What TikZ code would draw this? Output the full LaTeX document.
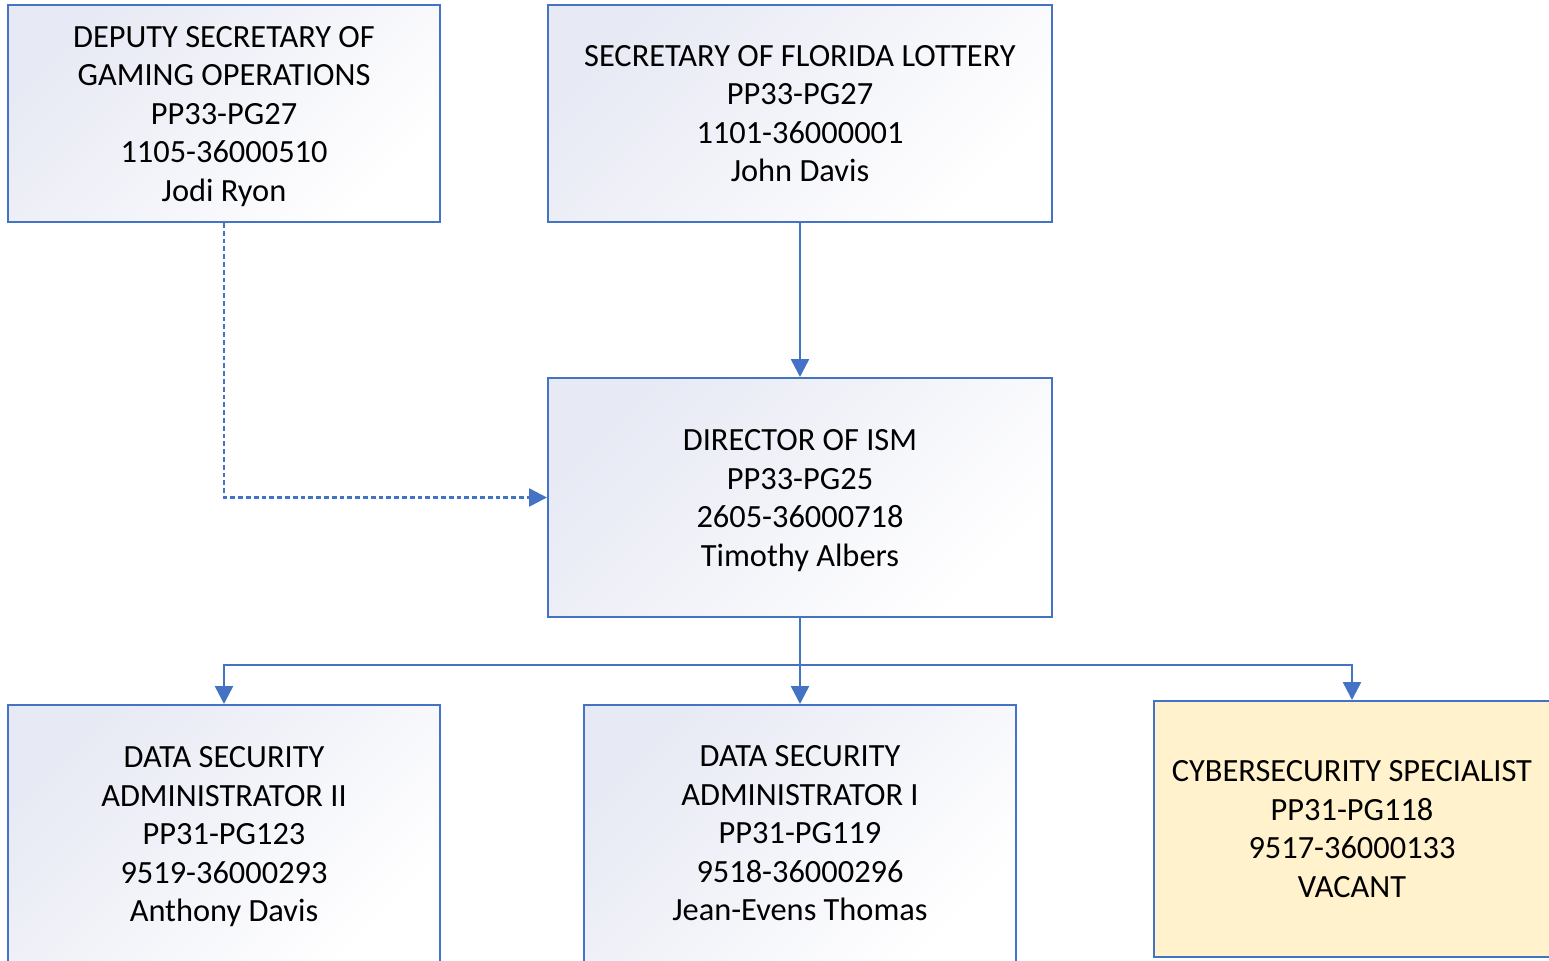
\documentclass[tikz,border=0pt]{standalone}
\usepackage{fontspec}
\setmainfont{Carlito}
\usetikzlibrary{arrows.meta}
\definecolor{lineblue}{HTML}{4472C4}
\definecolor{shadetop}{HTML}{E7E9F4}
\definecolor{vacantfill}{HTML}{FFF2CC}
% extra room above the first text line of a box
\newcommand\firstline{\rule{0pt}{13.6pt}}
\begin{document}
\begin{tikzpicture}[x=0.5pt,y=-0.5pt,
  posbox/.style={draw=lineblue, line width=1pt, align=center,
    inner sep=0pt, font=\fontsize{16.2}{19.25}\selectfont},
  shadedbox/.style={posbox, top color=shadetop, bottom color=white, shading angle=45},
  vacantbox/.style={posbox, fill=vacantfill},
  link/.style={draw=lineblue, line width=1.25pt, -{Triangle[length=9pt,width=9pt]}},
  dotlink/.style={link, line cap=butt, dash pattern=on 2.4pt off 1.5pt}]
\useasboundingbox (0,0) rectangle (1549,960);

% positions
\node[shadedbox, minimum width=216pt, minimum height=108.5pt] (dep) at (224,113.5)
  {\firstline DEPUTY SECRETARY OF\\GAMING OPERATIONS\\PP33-PG27\\1105-36000510\\Jodi Ryon};
\node[shadedbox, minimum width=252pt, minimum height=108.5pt] (sec) at (800,113.5)
  {SECRETARY OF FLORIDA LOTTERY\\PP33-PG27\\1101-36000001\\John Davis};
\node[shadedbox, minimum width=252pt, minimum height=119.5pt] (dir) at (800,497.5)
  {\firstline DIRECTOR OF ISM\\PP33-PG25\\2605-36000718\\Timothy Albers};
\node[shadedbox, minimum width=216pt, minimum height=128.5pt] (dsa2) at (224,833.5)
  {\firstline DATA SECURITY\\ADMINISTRATOR II\\PP31-PG123\\9519-36000293\\Anthony Davis};
\node[shadedbox, minimum width=216pt, minimum height=128.5pt] (dsa1) at (800,833.5)
  {DATA SECURITY\\ADMINISTRATOR I\\PP31-PG119\\9518-36000296\\Jean-Evens Thomas};
\node[vacantbox, minimum width=198pt, minimum height=128pt] (cyb) at (1352,829)
  {CYBERSECURITY SPECIALIST\\PP31-PG118\\9517-36000133\\VACANT};

% reporting lines
\coordinate (bus) at (800,665);
\draw[link] (sec.south) -- (dir.north);
\draw[dotlink] (dep.south) |- (dir.west);
\draw[draw=lineblue, line width=1.25pt] (dir.south) -- (bus);
\draw[link] (bus) -| (dsa2.north);
\draw[link] (bus) -- (dsa1.north);
\draw[link] (bus) -| (cyb.north);
\end{tikzpicture}
\end{document}
